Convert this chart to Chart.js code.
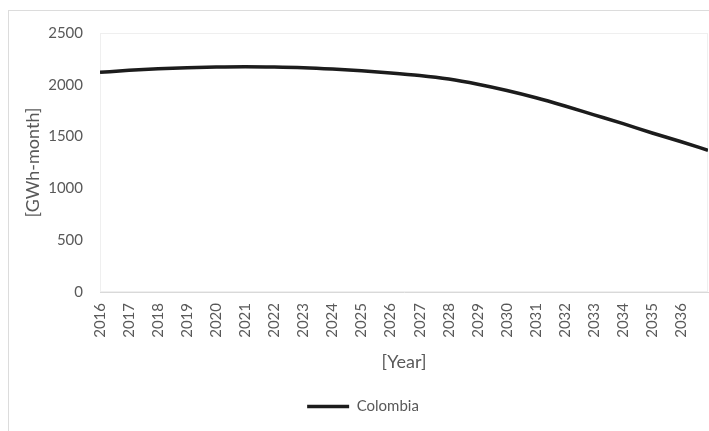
<!DOCTYPE html>
<html>
<head>
<meta charset="utf-8">
<script src="https://cdn.jsdelivr.net/npm/chart.js@4.4.1/dist/chart.umd.min.js"></script>
<style>
  html, body { margin: 0; padding: 0; background: #ffffff; overflow: hidden; width: 709px; height: 431px; }
  #frame { position: absolute; left: 8px; top: 10px; width: 720px; height: 440px; border: 1px solid #dcdcdc; box-sizing: border-box; }
  #wrap { position: absolute; left: 8px; top: 10px; width: 710px; height: 421px; }
</style>
</head>
<body>
<div id="frame"></div>
<div id="wrap"><canvas id="c"></canvas></div>
<script>
const years = [2016, 2017, 2018, 2019, 2020, 2021, 2022, 2023, 2024, 2025, 2026, 2027, 2028, 2029, 2030, 2031, 2032, 2033, 2034, 2035, 2036, 2036.92];
const colombia = [2120, 2140, 2155, 2165, 2172, 2175, 2172, 2165, 2152, 2135, 2115, 2090, 2055, 2005, 1945, 1875, 1795, 1710, 1625, 1535, 1450, 1368];
const yTicks = [0, 500, 1000, 1500, 2000, 2500];
const seriesName = 'Colombia';
const yTitle = '[GWh-month]';
const xTitle = '[Year]';

const txt = '#595959';
const fontFam = 'Lato, "Open Sans", sans-serif';

const plotFrame = {
  id: 'plotFrame',
  beforeDatasetsDraw(chart) {
    const a = chart.chartArea, ctx = chart.ctx;
    ctx.save();
    ctx.strokeStyle = '#efefef';
    ctx.lineWidth = 1;
    ctx.strokeRect(a.left + 0.5, a.top + 0.5, a.right - a.left - 1, a.bottom - a.top - 1);
    ctx.restore();
  }
};

new Chart(document.getElementById('c'), {
  type: 'line',
  data: {
    datasets: [{
      label: seriesName,
      data: years.map((y, i) => ({ x: y, y: colombia[i] })),
      borderColor: '#1c1c1c',
      backgroundColor: '#1c1c1c',
      borderWidth: 3.5,
      pointRadius: 0,
      tension: 0.4,
      cubicInterpolationMode: 'monotone',
      fill: false
    }]
  },
  options: {
    responsive: true,
    maintainAspectRatio: false,
    animation: false,
    layout: { padding: { left: 10, right: 10, top: 23, bottom: 7 } },
    plugins: {
      legend: {
        position: 'bottom',
        labels: {
          usePointStyle: true,
          pointStyle: 'line',
          pointStyleWidth: 42,
          padding: 10,
          color: txt,
          font: { family: fontFam, size: 15 }
        }
      },
      tooltip: { enabled: false }
    },
    scales: {
      x: {
        type: 'linear',
        min: years[0],
        max: years[years.length - 1],
        afterFit: s => { s.height = 97; },
        grid: { display: false, drawTicks: true, tickLength: 8 },
        border: { display: true, color: '#d9d9d9', width: 1 },
        ticks: {
          stepSize: 1,
          includeBounds: false,
          autoSkip: false,
          maxRotation: 90,
          minRotation: 90,
          padding: 3,
          color: txt,
          font: { family: fontFam, size: 15 },
          callback: v => String(v)
        },
        title: {
          display: true,
          text: xTitle,
          color: txt,
          font: { family: fontFam, size: 18 },
          padding: { top: 0, bottom: 16 }
        }
      },
      y: {
        min: 0,
        max: 2500,
        afterFit: s => { s.width = 82; },
        afterBuildTicks: s => { s.ticks = yTicks.map(v => ({ value: v })); },
        grid: { display: false, drawTicks: true, tickLength: 14 },
        border: { display: true, color: '#d9d9d9', width: 1 },
        ticks: {
          padding: 3,
          color: txt,
          font: { family: fontFam, size: 15 },
          callback: v => String(v)
        },
        title: {
          display: true,
          text: yTitle,
          color: txt,
          font: { family: fontFam, size: 18 },
          padding: { top: 4, bottom: 0 }
        }
      }
    }
  },
  plugins: [plotFrame]
});
</script>
</body>
</html>
